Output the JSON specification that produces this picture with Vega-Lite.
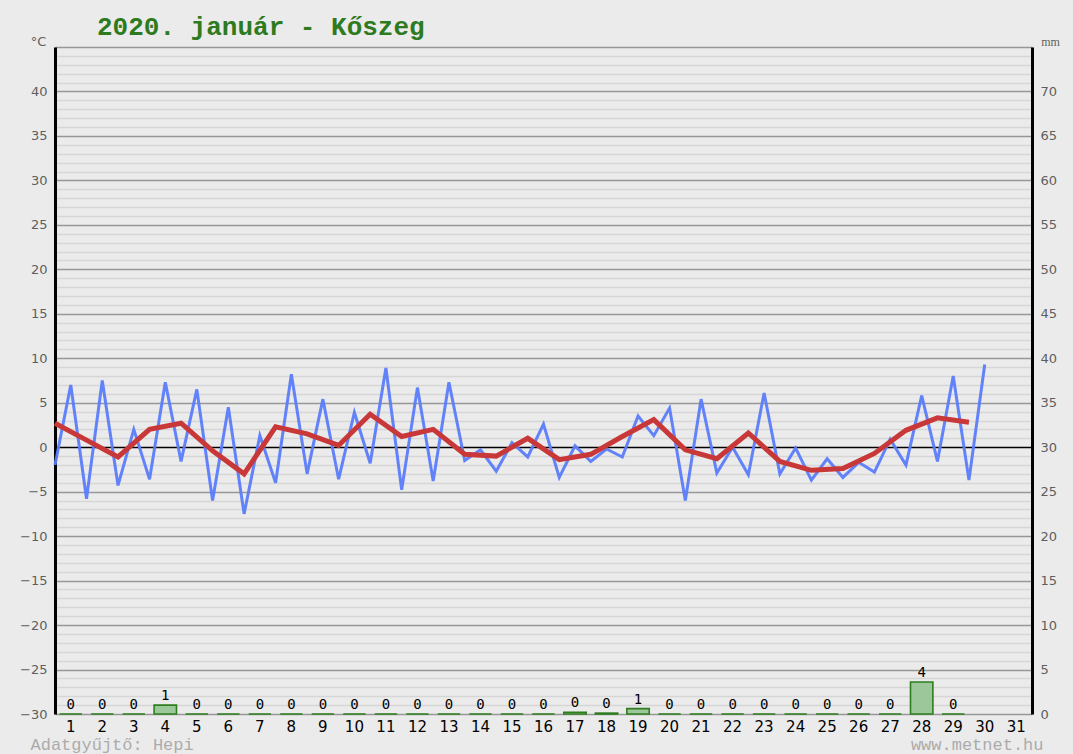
{
  "$schema": "https://vega.github.io/schema/vega-lite/v6.json",
  "autosize": {"type": "none"},
  "width": 977,
  "height": 667,
  "padding": {"left": 55, "top": 47, "right": 41, "bottom": 40},
  "background": "#ebebeb",
  "config": {"view": {"stroke": null}},
  "title": {
    "text": "2020. január - Kőszeg",
    "anchor": "start",
    "frame": "group",
    "dx": 42,
    "offset": -26,
    "baseline": "alphabetic",
    "font": "Liberation Mono",
    "fontSize": 26,
    "fontWeight": "bold",
    "color": "#2e7a1e"
  },
  "datasets": {
    "csapadek": [
      {"nap": 1, "mm": 0}, {"nap": 2, "mm": 0}, {"nap": 3, "mm": 0}, {"nap": 4, "mm": 1.0},
      {"nap": 5, "mm": 0}, {"nap": 6, "mm": 0}, {"nap": 7, "mm": 0}, {"nap": 8, "mm": 0},
      {"nap": 9, "mm": 0}, {"nap": 10, "mm": 0}, {"nap": 11, "mm": 0}, {"nap": 12, "mm": 0},
      {"nap": 13, "mm": 0}, {"nap": 14, "mm": 0}, {"nap": 15, "mm": 0}, {"nap": 16, "mm": 0},
      {"nap": 17, "mm": 0.2}, {"nap": 18, "mm": 0.1}, {"nap": 19, "mm": 0.6}, {"nap": 20, "mm": 0},
      {"nap": 21, "mm": 0}, {"nap": 22, "mm": 0}, {"nap": 23, "mm": 0}, {"nap": 24, "mm": 0},
      {"nap": 25, "mm": 0}, {"nap": 26, "mm": 0}, {"nap": 27, "mm": 0}, {"nap": 28, "mm": 3.6},
      {"nap": 29, "mm": 0}
    ],
    "homerseklet": [
      {"t": 0.5, "ho": -2.0}, {"t": 1, "ho": 7.0}, {"t": 1.5, "ho": -5.8}, {"t": 2, "ho": 7.5},
      {"t": 2.5, "ho": -4.3}, {"t": 3, "ho": 2.0}, {"t": 3.5, "ho": -3.6}, {"t": 4, "ho": 7.3},
      {"t": 4.5, "ho": -1.6}, {"t": 5, "ho": 6.5}, {"t": 5.5, "ho": -6.0}, {"t": 6, "ho": 4.5},
      {"t": 6.5, "ho": -7.5}, {"t": 7, "ho": 1.3}, {"t": 7.5, "ho": -4.0}, {"t": 8, "ho": 8.2},
      {"t": 8.5, "ho": -3.0}, {"t": 9, "ho": 5.4}, {"t": 9.5, "ho": -3.6}, {"t": 10, "ho": 3.9},
      {"t": 10.5, "ho": -1.8}, {"t": 11, "ho": 8.9}, {"t": 11.5, "ho": -4.8}, {"t": 12, "ho": 6.7},
      {"t": 12.5, "ho": -3.8}, {"t": 13, "ho": 7.3}, {"t": 13.5, "ho": -1.5}, {"t": 14, "ho": -0.3},
      {"t": 14.5, "ho": -2.7}, {"t": 15, "ho": 0.5}, {"t": 15.5, "ho": -1.1}, {"t": 16, "ho": 2.6},
      {"t": 16.5, "ho": -3.4}, {"t": 17, "ho": 0.15}, {"t": 17.5, "ho": -1.6}, {"t": 18, "ho": -0.2},
      {"t": 18.5, "ho": -1.1}, {"t": 19, "ho": 3.5}, {"t": 19.5, "ho": 1.3}, {"t": 20, "ho": 4.4},
      {"t": 20.5, "ho": -6.0}, {"t": 21, "ho": 5.4}, {"t": 21.5, "ho": -2.9}, {"t": 22, "ho": 0.0},
      {"t": 22.5, "ho": -3.1}, {"t": 23, "ho": 6.1}, {"t": 23.5, "ho": -3.0}, {"t": 24, "ho": -0.1},
      {"t": 24.5, "ho": -3.7}, {"t": 25, "ho": -1.3}, {"t": 25.5, "ho": -3.4}, {"t": 26, "ho": -1.7},
      {"t": 26.5, "ho": -2.8}, {"t": 27, "ho": 0.9}, {"t": 27.5, "ho": -2.0}, {"t": 28, "ho": 5.8},
      {"t": 28.5, "ho": -1.6}, {"t": 29, "ho": 8.0}, {"t": 29.5, "ho": -3.7}, {"t": 30, "ho": 9.3}
    ],
    "atlag": [
      {"t": 0.5, "ho": 2.7}, {"t": 1.5, "ho": 0.8}, {"t": 2.5, "ho": -1.1}, {"t": 3.5, "ho": 2.0},
      {"t": 4.5, "ho": 2.7}, {"t": 5.5, "ho": -0.4}, {"t": 6.5, "ho": -3.0}, {"t": 7.5, "ho": 2.3},
      {"t": 8.5, "ho": 1.5}, {"t": 9.5, "ho": 0.2}, {"t": 10.5, "ho": 3.7}, {"t": 11.5, "ho": 1.2},
      {"t": 12.5, "ho": 2.0}, {"t": 13.5, "ho": -0.8}, {"t": 14.5, "ho": -1.0}, {"t": 15.5, "ho": 1.0},
      {"t": 16.5, "ho": -1.4}, {"t": 17.5, "ho": -0.8}, {"t": 18.5, "ho": 1.2}, {"t": 19.5, "ho": 3.1},
      {"t": 20.5, "ho": -0.3}, {"t": 21.5, "ho": -1.3}, {"t": 22.5, "ho": 1.6}, {"t": 23.5, "ho": -1.6},
      {"t": 24.5, "ho": -2.6}, {"t": 25.5, "ho": -2.4}, {"t": 26.5, "ho": -0.7}, {"t": 27.5, "ho": 1.9},
      {"t": 28.5, "ho": 3.3}, {"t": 29.5, "ho": 2.8}
    ]
  },
  "layer": [
    {
      "data": {"name": "csapadek"},
      "encoding": {
        "x": {
          "field": "nap",
          "type": "ordinal",
          "scale": {
            "domain": [1,2,3,4,5,6,7,8,9,10,11,12,13,14,15,16,17,18,19,20,21,22,23,24,25,26,27,28,29,30,31],
            "paddingInner": 0.29,
            "paddingOuter": 0.145
          },
          "axis": {
            "orient": "bottom",
            "labelAngle": 0,
            "labelFont": "DejaVu Sans",
            "labelFontSize": 15,
            "labelColor": "#000000",
            "labelPadding": 5,
            "ticks": false,
            "domain": false,
            "grid": false,
            "title": "Adatgyűjtő: Hepi",
            "titleFont": "Liberation Mono",
            "titleFontSize": 17,
            "titleFontWeight": "normal",
            "titleColor": "#ababab",
            "titleAlign": "left",
            "titleAnchor": null,
            "titleBaseline": "alphabetic",
            "titleX": -25,
            "titleY": 35
          }
        },
        "y": {
          "field": "mm",
          "type": "quantitative",
          "scale": {"domain": [0, 75], "nice": false},
          "axis": {
            "orient": "right",
            "tickCount": 75,
            "labelExpr": "datum.value % 5 === 0 && datum.value < 75 ? datum.label : ''",
            "labelOverlap": false,
            "labelFlush": false,
            "labelFont": "DejaVu Sans",
            "labelFontSize": 13,
            "labelColor": "#5e5e5e",
            "labelPadding": 8,
            "ticks": false,
            "domain": true,
            "domainColor": "#000000",
            "domainWidth": 3,
            "grid": true,
            "gridColor": {
              "condition": [
                {"test": "datum.value === 30", "value": "#000000"},
                {"test": "datum.value % 5 === 0", "value": "#979797"}
              ],
              "value": "#d6d6d6"
            },
            "gridWidth": {
              "condition": {"test": "datum.value % 5 === 0", "value": 1.6},
              "value": 1.3
            },
            "gridOpacity": 1,
            "title": "mm",
            "titleFont": "Liberation Serif",
            "titleFontSize": 12,
            "titleFontWeight": "normal",
            "titleColor": "#5e5e5e",
            "titleAngle": 0,
            "titleAlign": "center",
            "titleBaseline": "alphabetic",
            "titleX": 18,
            "titleY": -2
          }
        }
      },
      "layer": [
        {
          "mark": {"type": "bar", "fill": "#9cc79a", "stroke": "#2e7d1e", "strokeWidth": 1.6}
        },
        {
          "mark": {"type": "text", "baseline": "alphabetic", "dy": -5, "font": "DejaVu Sans Mono", "fontSize": 14, "color": "#000000"},
          "encoding": {"text": {"field": "mm", "type": "quantitative", "format": ".0f"}}
        }
      ]
    },
    {
      "encoding": {
        "x": {
          "field": "t",
          "type": "quantitative",
          "scale": {"domain": [0.5, 31.5], "nice": false, "zero": false},
          "axis": {
            "orient": "top",
            "labels": false,
            "ticks": false,
            "domain": false,
            "grid": false,
            "title": "www.metnet.hu",
            "titleFont": "Liberation Mono",
            "titleFontSize": 17,
            "titleFontWeight": "normal",
            "titleColor": "#ababab",
            "titleAlign": "right",
            "titleAnchor": null,
            "titleBaseline": "alphabetic",
            "titleX": 988,
            "titleY": 702
          }
        },
        "y": {
          "field": "ho",
          "type": "quantitative",
          "scale": {"domain": [-30, 45], "nice": false, "zero": false},
          "axis": {
            "orient": "left",
            "values": [-30, -25, -20, -15, -10, -5, 0, 5, 10, 15, 20, 25, 30, 35, 40],
            "labelFont": "DejaVu Sans",
            "labelFontSize": 13,
            "labelColor": "#5e5e5e",
            "labelPadding": 8,
            "ticks": false,
            "grid": false,
            "domain": true,
            "domainColor": "#000000",
            "domainWidth": 3,
            "title": "°C",
            "titleFont": "DejaVu Sans",
            "titleFontSize": 13,
            "titleFontWeight": "normal",
            "titleColor": "#5e5e5e",
            "titleAngle": 0,
            "titleAlign": "center",
            "titleBaseline": "alphabetic",
            "titleX": -17,
            "titleY": -2
          }
        }
      },
      "layer": [
        {
          "data": {"name": "homerseklet"},
          "mark": {"type": "line", "color": "#5b7cfb", "strokeWidth": 3, "opacity": 0.95}
        },
        {
          "data": {"name": "atlag"},
          "mark": {"type": "line", "color": "#c93838", "strokeWidth": 5}
        }
      ]
    }
  ],
  "resolve": {"scale": {"x": "independent", "y": "independent"}}
}
